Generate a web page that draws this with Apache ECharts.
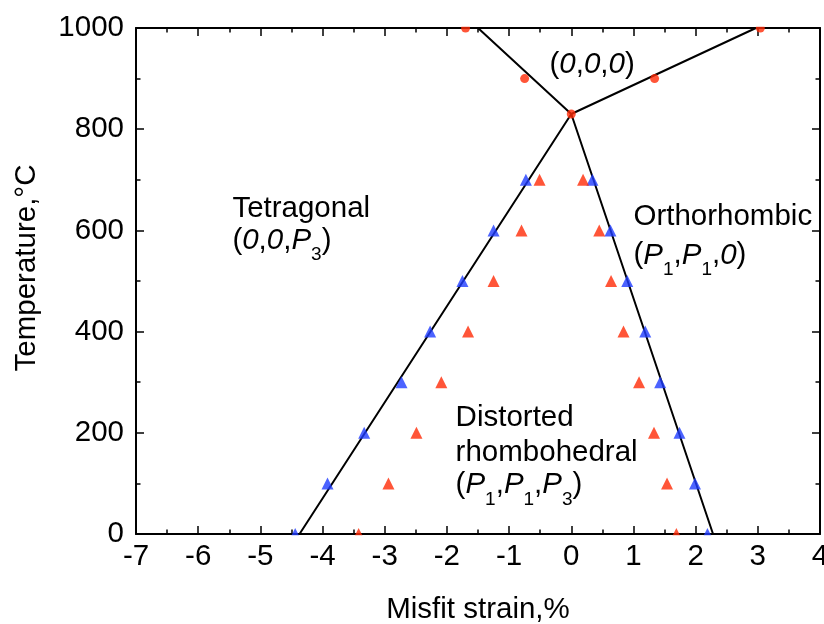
<!DOCTYPE html>
<html><head><meta charset="utf-8">
<script src="https://cdn.jsdelivr.net/npm/echarts@6/dist/echarts.min.js"></script>
<style>html,body{margin:0;padding:0;background:#fff}#c{width:824px;height:624px}</style>
</head><body><div id="c"></div>
<script>
// ---- data ----
const temps = [0, 100, 200, 300, 400, 500, 600, 700];
const blueLeft  = [-4.44, -3.92, -3.33, -2.73, -2.27, -1.75, -1.25, -0.73];
const redLeft   = [-3.42, -2.94, -2.49, -2.09, -1.66, -1.25, -0.80, -0.51];
const redRight  = [1.69, 1.54, 1.33, 1.09, 0.84, 0.64, 0.45, 0.19];
const blueRight = [2.19, 1.99, 1.74, 1.43, 1.19, 0.90, 0.63, 0.34];
const paraX = [-1.70, -0.75, 0, 1.34, 3.04];
const paraT = [1000, 900, 830, 900, 1000];
const upperBoundX = [-1.50, 0, 2.97];
const upperBoundT = [1000, 830, 1000];
const lowerBoundX = [-4.37, 0, 2.28];
const lowerBoundT = [0, 830, 0];
const xRange = [-7, 4];
const yRange = [0, 1000];
const xName = 'Misfit strain,%';
const yName = 'Temperature,\u00B0C';
// annotation text lines: [x (left), temperature at baseline, rich text]
const annoX = [-0.35, -5.45, 1.0, -1.86];
const annoLines = [
  [[904, '{n|(}{i|0}{n|,}{i|0}{n|,}{i|0}{n|)}']],
  [[618, '{n|Tetragonal}'], [556, '{n|(}{i|0}{n|,}{i|0}{n|,}{i|P}{s|3}{n|)}']],
  [[604, '{n|Orthorhombic}'], [527, '{n|(}{i|P}{s|1}{n|,}{i|P}{s|1}{n|,}{i|0}{n|)}']],
  [[205, '{n|Distorted}'], [136, '{n|rhombohedral}'], [73, '{n|(}{i|P}{s|1}{n|,}{i|P}{s|1}{n|,}{i|P}{s|3}{n|)}']]
];

const FONT = 'Liberation Sans, Arial, Helvetica, sans-serif';
const FS = 29.5;
const RED = '#ff2a06';
const BLUE = '#1f3cff';
const pairs = (xs, ys) => xs.map((x, i) => [x, ys[i]]);

const axisCommon = {
  axisLine: {show: true, onZero: false, lineStyle: {color: '#000', width: 2}},
  axisTick: {show: true, inside: true, length: 8, lineStyle: {color: '#000', width: 1.5}},
  minorTick: {show: true, splitNumber: 2, length: 4.5, lineStyle: {color: '#000', width: 1.5}},
  splitLine: {show: false},
  minorSplitLine: {show: false}
};
const plain = v => String(v);

const option = {
  animation: false,
  backgroundColor: '#fff',
  grid: {left: 136, right: 4, top: 28, bottom: 90, containLabel: false, outerBoundsMode: 'none'},
  xAxis: [
    Object.assign({type: 'value', position: 'bottom', min: xRange[0], max: xRange[1], interval: 1,
      name: xName, nameLocation: 'middle', nameGap: 76,
      nameTextStyle: {fontSize: FS, fontFamily: FONT, color: '#000', verticalAlign: 'middle'},
      axisLabel: {fontSize: FS, fontFamily: FONT, color: '#000', margin: 8, formatter: plain}}, axisCommon),
    Object.assign({type: 'value', position: 'top', min: xRange[0], max: xRange[1], interval: 1,
      axisLabel: {show: false}}, axisCommon)
  ],
  yAxis: [
    Object.assign({type: 'value', position: 'left', min: yRange[0], max: yRange[1], interval: 200,
      axisLabel: {fontSize: FS, fontFamily: FONT, color: '#000', margin: 12, formatter: plain}}, axisCommon),
    Object.assign({type: 'value', position: 'right', min: yRange[0], max: yRange[1], interval: 200,
      axisLabel: {show: false}}, axisCommon)
  ],
  series: [
    {type: 'line', data: pairs(upperBoundX, upperBoundT), symbol: 'none',
      lineStyle: {color: '#000', width: 2}, z: 3},
    {type: 'line', data: pairs(lowerBoundX, lowerBoundT), symbol: 'none',
      lineStyle: {color: '#000', width: 2}, z: 3},
    {type: 'scatter', data: pairs(blueLeft, temps), symbol: 'triangle', symbolSize: 12,
      itemStyle: {color: BLUE}, z: 4},
    {type: 'scatter', data: pairs(blueRight, temps), symbol: 'triangle', symbolSize: 12,
      itemStyle: {color: BLUE}, z: 4},
    {type: 'scatter', data: pairs(redLeft, temps), symbol: 'triangle', symbolSize: 12,
      itemStyle: {color: RED}, z: 4},
    {type: 'scatter', data: pairs(redRight, temps), symbol: 'triangle', symbolSize: 12,
      itemStyle: {color: RED}, z: 4},
    {type: 'scatter', data: pairs(paraX, paraT), symbol: 'circle', symbolSize: 9,
      itemStyle: {color: RED}, z: 5}
  ]
};

const chart = echarts.init(document.getElementById('c'));
chart.setOption(option);

const rich = {
  n: {fontSize: FS, fontFamily: FONT, color: '#000', lineHeight: 34, verticalAlign: 'top'},
  i: {fontSize: FS, fontFamily: FONT, color: '#000', fontStyle: 'italic', lineHeight: 34, verticalAlign: 'top'},
  s: {fontSize: 19, fontFamily: FONT, color: '#000', lineHeight: 20, padding: [20, 0, 0, 0], verticalAlign: 'top'}
};
const BASE = 27;
const graphics = [];
annoLines.forEach((lines, a) => {
  lines.forEach(([t, txt]) => {
    const p = chart.convertToPixel({xAxisIndex: 0, yAxisIndex: 0}, [annoX[a], t]);
    graphics.push({type: 'text', x: p[0], y: p[1] - BASE, z: 100,
      style: {text: txt, rich: rich, fontSize: FS, fontFamily: FONT, fill: '#000',
        align: 'left', verticalAlign: 'top'}});
  });
});
// mask symbol halves outside the frame
const p0 = chart.convertToPixel({xAxisIndex: 0, yAxisIndex: 0}, [xRange[0], yRange[0]]);
const p1 = chart.convertToPixel({xAxisIndex: 0, yAxisIndex: 0}, [xRange[1], yRange[1]]);
graphics.push({type: 'rect', z: 50, shape: {x: p0[0] + 1.5, y: p0[1] + 1.2, width: p1[0] - p0[0] - 3, height: 8},
  style: {fill: '#fff'}});
graphics.push({type: 'rect', z: 50, shape: {x: p0[0] + 1.5, y: p1[1] - 9.2, width: p1[0] - p0[0] - 3, height: 8},
  style: {fill: '#fff'}});
// y axis name
const midY = (p0[1] + p1[1]) / 2 - 13;
graphics.push({type: 'text', x: 27, y: midY, rotation: Math.PI / 2, z: 100,
  style: {text: yName, fontSize: FS, fontFamily: FONT, fill: '#000', align: 'center', verticalAlign: 'middle'}});
chart.setOption({graphic: graphics});
</script>
</body></html>
